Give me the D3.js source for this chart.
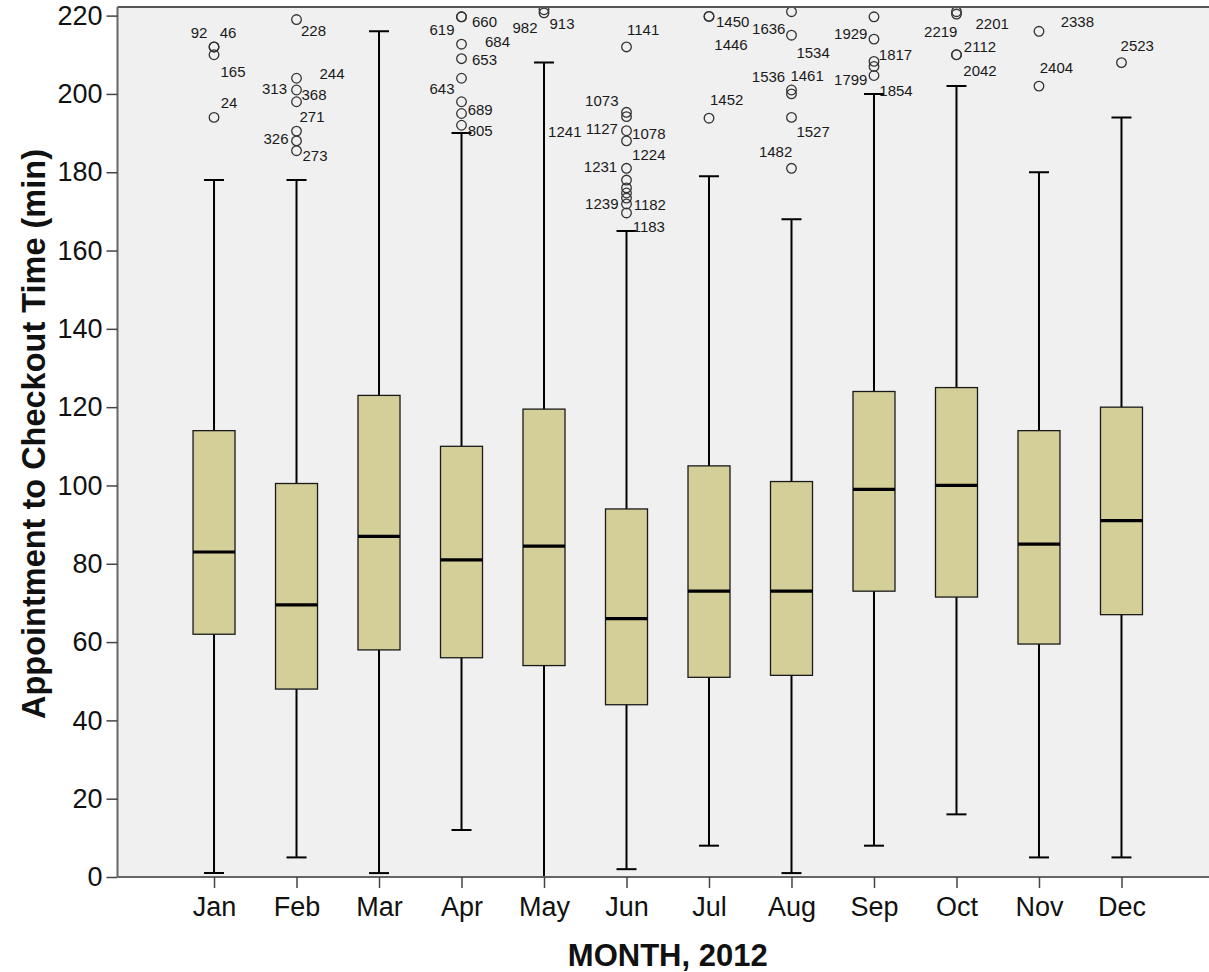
<!DOCTYPE html>
<html>
<head>
<meta charset="utf-8">
<script src="https://cdn.jsdelivr.net/npm/d3@7"></script>
<style>
  html, body { margin: 0; padding: 0; background: #ffffff; }
  svg { display: block; font-family: "Liberation Sans", Arial, sans-serif; }
</style>
</head>
<body>
<svg id="chart" width="1209" height="972"></svg>
<script>
// Appointment-to-checkout time by month, 2012 (minutes)
const months = ["Jan", "Feb", "Mar", "Apr", "May", "Jun", "Jul", "Aug", "Sep", "Oct", "Nov", "Dec"];
const whiskerLow  = [1, 5, 1, 12, 0, 2, 8, 1, 8, 16, 5, 5];
const quartile1   = [62, 48, 58, 56, 54, 44, 51, 51.5, 73, 71.5, 59.5, 67];
const medians     = [83, 69.5, 87, 81, 84.5, 66, 73, 73, 99, 100, 85, 91];
const quartile3   = [114, 100.5, 123, 110, 119.5, 94, 105, 101, 124, 125, 114, 120];
const whiskerHigh = [178, 178, 216, 190, 208, 165, 179, 168, 200, 202, 180, 194];

// Outlying cases: month, value and case number (null = label hidden by overlap)
const outlierMonth = ["Jan","Jan","Jan","Jan",
  "Feb","Feb","Feb","Feb","Feb","Feb","Feb",
  "Apr","Apr","Apr","Apr","Apr","Apr","Apr","Apr",
  "May","May",
  "Jun","Jun","Jun","Jun","Jun","Jun","Jun","Jun","Jun","Jun","Jun","Jun",
  "Jul","Jul","Jul",
  "Aug","Aug","Aug","Aug","Aug","Aug",
  "Sep","Sep","Sep","Sep","Sep",
  "Oct","Oct","Oct","Oct",
  "Nov","Nov",
  "Dec"];
const outlierValue = [212, 212, 210, 194,
  219, 204, 201, 198, 190.5, 188, 185.5,
  219.7, 219.7, 212.7, 209, 204, 198, 195, 192,
  221.5, 220.7,
  212, 195.3, 194.2, 190.6, 188, 181, 178, 176, 174.7, 173.4, 171.9, 169.6,
  219.8, 219.8, 193.8,
  221, 215, 201, 200, 194, 181,
  219.7, 214, 208.3, 207, 204.7,
  221, 220.4, 210, 210,
  216, 202,
  208];
const outlierCase = ["92", "46", "165", "24",
  "228", "244", "313", "368", "271", "326", "273",
  "619", "660", "684", "653", "643", "689", null, "805",
  "913", "982",
  "1141", "1073", "1241", "1127", "1078", "1231", "1224", null, null, "1182", "1239", "1183",
  "1450", "1446", "1452",
  "1636", "1534", "1536", "1461", "1527", "1482",
  null, "1929", "1817", "1854", "1799",
  "2201", "2219", "2112", "2042",
  "2338", "2404",
  "2523"];

const yTicks = [0, 20, 40, 60, 80, 100, 120, 140, 160, 180, 200, 220];

// Where each case label sits relative to its circle (label centre offset, px)
const labelPlacement = {
  "92": [-15, -14], "46": [14, -14], "165": [19, 17], "24": [15, -15],
  "228": [17, 11], "244": [35.5, -5], "313": [-22, -2], "368": [17.5, -7.5],
  "271": [15.5, -15], "326": [-20.5, -2.7], "273": [18.5, 5],
  "619": [-19.5, 12.3], "660": [23, 5], "684": [36, -2.6], "653": [23, 1],
  "643": [-19.5, 10], "689": [18.7, 7.3], "805": [18.7, 5],
  "982": [-19, 14.7], "913": [18, 13.3],
  "1141": [16.6, -17.7], "1073": [-24.7, -12.3], "1241": [-61.7, 15], "1127": [-24.7, -2.7],
  "1078": [22.3, -7.7], "1231": [-26, -2.3], "1224": [22.3, -25.7], "1182": [23.3, 6],
  "1239": [-24.7, 0], "1183": [22.3, 13.4],
  "1450": [23.7, 5], "1446": [22, 28.3], "1452": [17.7, -18.3],
  "1636": [-22.7, 16.6], "1534": [21.6, 17.6], "1536": [-23, -14], "1461": [15.6, -18.3],
  "1527": [21.6, 14.4], "1482": [-15.9, -17.3],
  "1929": [-23.2, -6], "1817": [21.5, -6.7], "1854": [22, 24.3], "1799": [-23.2, 4.3],
  "2219": [-15.7, 17], "2201": [35.7, 11.6], "2112": [23.5, -8.3], "2042": [23.5, 16],
  "2338": [38.4, -10], "2404": [17.5, -18.4],
  "2523": [15.8, -16.6]
};

const svg = d3.select("#chart");
const plot = { left: 117.5, right: 1218, top: 7, bottom: 877 };

const x = d3.scalePoint().domain(months).range([plot.left, plot.right]).padding(1.17);
const y = d3.scaleLinear().domain([0, 222.2]).range([plot.bottom, plot.top]);

const boxW = 42, capW = 20;

// plot background
svg.append("rect")
  .attr("x", plot.left).attr("y", plot.top)
  .attr("width", plot.right - plot.left).attr("height", plot.bottom - plot.top)
  .attr("fill", "#f0f0f0");

svg.append("defs").append("clipPath").attr("id", "plotClip")
  .append("rect")
  .attr("x", plot.left).attr("y", plot.top)
  .attr("width", plot.right - plot.left).attr("height", plot.bottom - plot.top);

const stats = months.map((m, i) => ({
  m, lo: whiskerLow[i], q1: quartile1[i], med: medians[i], q3: quartile3[i], hi: whiskerHigh[i]
}));

const g = svg.append("g").attr("clip-path", "url(#plotClip)");

// whiskers
g.selectAll(".whisker").data(stats).join("line")
  .attr("x1", d => x(d.m)).attr("x2", d => x(d.m))
  .attr("y1", d => y(d.hi)).attr("y2", d => y(d.lo))
  .attr("stroke", "#000").attr("stroke-width", 2);

// whisker caps
["hi", "lo"].forEach(k => {
  g.selectAll(".cap-" + k).data(stats).join("line")
    .attr("x1", d => x(d.m) - capW / 2).attr("x2", d => x(d.m) + capW / 2)
    .attr("y1", d => y(d[k])).attr("y2", d => y(d[k]))
    .attr("stroke", "#000").attr("stroke-width", 2);
});

// boxes
g.selectAll(".box").data(stats).join("rect")
  .attr("x", d => x(d.m) - boxW / 2).attr("width", boxW)
  .attr("y", d => y(d.q3)).attr("height", d => y(d.q1) - y(d.q3))
  .attr("fill", "#d4cf98").attr("stroke", "#1a1a1a").attr("stroke-width", 1.3);

// medians
g.selectAll(".median").data(stats).join("line")
  .attr("x1", d => x(d.m) - boxW / 2).attr("x2", d => x(d.m) + boxW / 2)
  .attr("y1", d => y(d.med)).attr("y2", d => y(d.med))
  .attr("stroke", "#000").attr("stroke-width", 3.2);

// outliers
const outliers = outlierValue.map((v, i) => ({ m: outlierMonth[i], v, id: outlierCase[i] }));

g.selectAll(".outlier").data(outliers).join("circle")
  .attr("cx", d => x(d.m)).attr("cy", d => y(d.v)).attr("r", 4.8)
  .attr("fill", "none").attr("stroke", "#333").attr("stroke-width", 1.3);

svg.append("g").selectAll("text").data(outliers.filter(d => d.id)).join("text")
  .attr("x", d => x(d.m) + labelPlacement[d.id][0])
  .attr("y", d => y(d.v) + labelPlacement[d.id][1])
  .attr("text-anchor", "middle").attr("dominant-baseline", "central")
  .attr("font-size", 15).attr("fill", "#1a1a1a")
  .text(d => d.id);

// plot frame (top edge) and axes
svg.append("line")
  .attr("x1", plot.left).attr("x2", plot.right)
  .attr("y1", plot.top).attr("y2", plot.top)
  .attr("stroke", "#555").attr("stroke-width", 2);

const yAxis = svg.append("g")
  .attr("transform", `translate(${plot.left},0)`)
  .call(d3.axisLeft(y).tickValues(yTicks).tickSize(11).tickPadding(4).tickFormat(d3.format("d")));
yAxis.select(".domain").attr("stroke", "#666").attr("stroke-width", 2)
  .attr("d", `M0,${plot.top}V${plot.bottom}`);
yAxis.selectAll(".tick line").attr("stroke", "#444").attr("stroke-width", 1.5);
yAxis.selectAll(".tick text").attr("font-size", 27).attr("fill", "#111")
  .attr("font-family", "'Liberation Sans', Arial, sans-serif");

const xAxis = svg.append("g")
  .attr("transform", `translate(0,${plot.bottom})`)
  .call(d3.axisBottom(x).tickSize(11).tickPadding(9));
xAxis.select(".domain").attr("stroke", "#666").attr("stroke-width", 2)
  .attr("d", `M${plot.left},0H${plot.right}`);
xAxis.selectAll(".tick line").attr("stroke", "#444").attr("stroke-width", 1.5);
xAxis.selectAll(".tick text").attr("font-size", 27).attr("fill", "#111")
  .attr("font-family", "'Liberation Sans', Arial, sans-serif");

// axis titles
svg.append("text")
  .attr("x", (plot.left + plot.right) / 2).attr("y", 966)
  .attr("text-anchor", "middle").attr("font-size", 31).attr("font-weight", "bold")
  .attr("fill", "#111")
  .text("MONTH, 2012");

svg.append("text")
  .attr("transform", "translate(45,434) rotate(-90)")
  .attr("text-anchor", "middle").attr("font-size", 32.5).attr("font-weight", "bold")
  .attr("fill", "#111")
  .text("Appointment to Checkout Time (min)");
</script>
</body>
</html>
